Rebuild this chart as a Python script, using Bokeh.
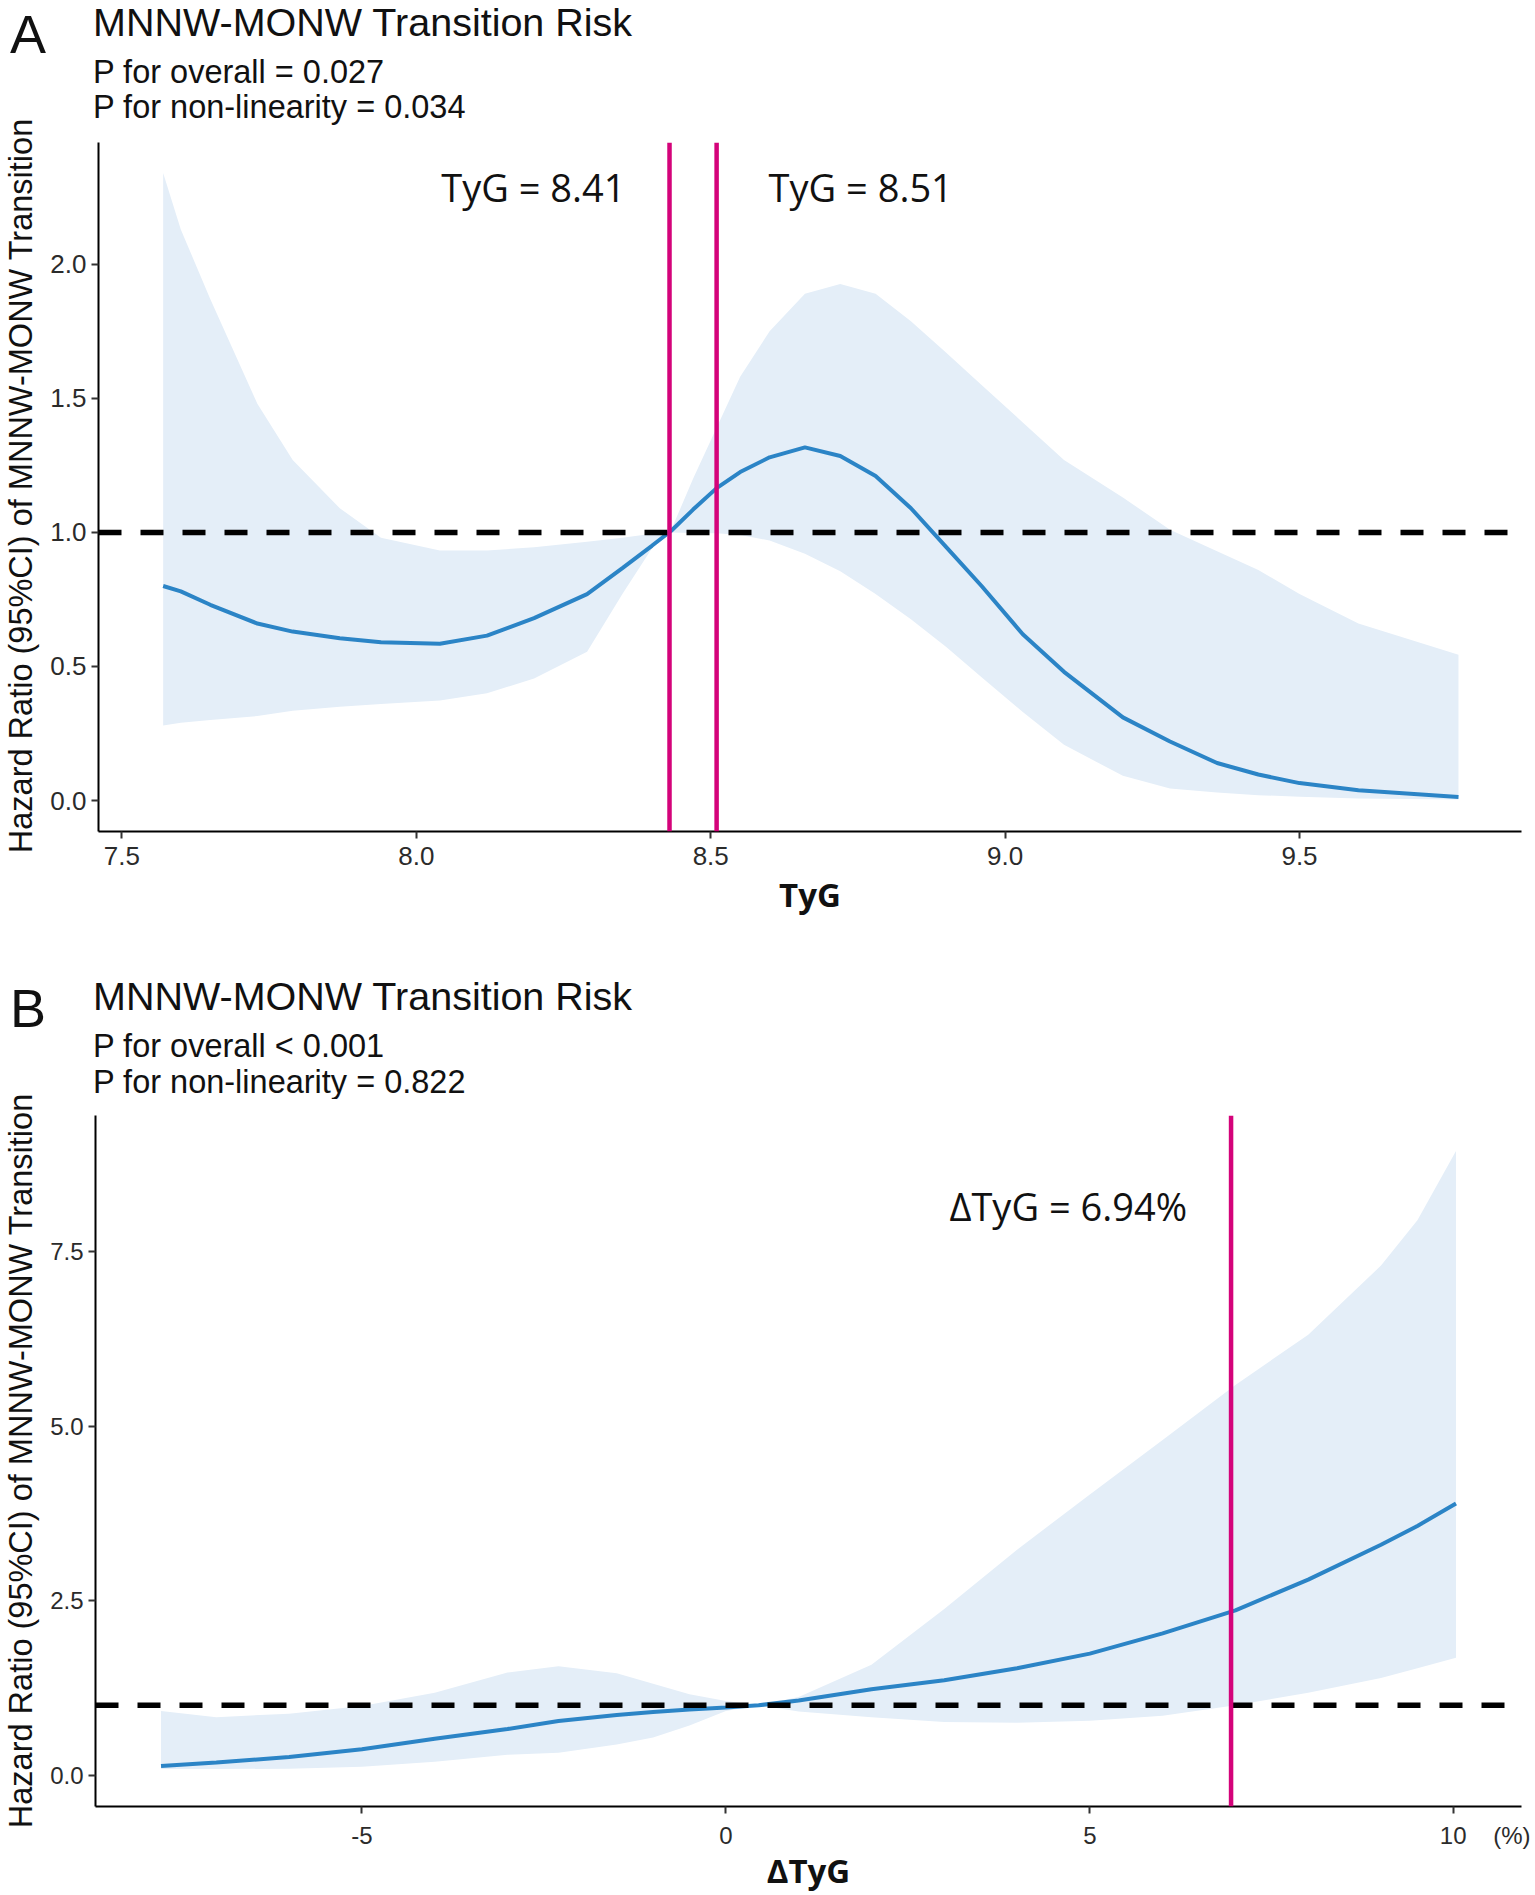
from html import escape

from bokeh.embed import file_html
from bokeh.layouts import column, row
from bokeh.models import Div, FixedTicker, Label, PrintfTickFormatter, Range1d, Span
from bokeh.plotting import figure
from bokeh.resources import INLINE

# ---- shared text ----
title = "MNNW-MONW Transition Risk"
y_title = "Hazard Ratio (95%CI) of MNNW-MONW Transition"
ref_hr = 1.0

# ---- panel A: TyG ----
tyg_x = [7.57, 7.60, 7.65, 7.73, 7.79, 7.87, 7.94, 8.04, 8.12, 8.20, 8.29, 8.35, 8.40, 8.433,
         8.47, 8.51, 8.55, 8.60, 8.66, 8.72, 8.78, 8.84, 8.90, 8.96, 9.03, 9.10, 9.20, 9.28,
         9.36, 9.43, 9.50, 9.60, 9.77]
tyg_hr = [0.80, 0.78, 0.73, 0.66, 0.63, 0.605, 0.59, 0.585, 0.615, 0.68, 0.77, 0.867, 0.95, 1.006,
          1.085, 1.165, 1.225, 1.28, 1.317, 1.285, 1.21, 1.09, 0.945, 0.80, 0.62, 0.48, 0.31, 0.22,
          0.14, 0.097, 0.065, 0.038, 0.013]
tyg_lower = [0.28, 0.29, 0.30, 0.315, 0.335, 0.35, 0.36, 0.373, 0.40, 0.455, 0.555, 0.77, 0.94, 1.0,
             0.998, 0.997, 0.99, 0.97, 0.92, 0.855, 0.77, 0.676, 0.573, 0.46, 0.33, 0.208, 0.092,
             0.045, 0.03, 0.02, 0.014, 0.008, 0.004]
tyg_upper = [2.34, 2.13, 1.87, 1.48, 1.27, 1.09, 0.98, 0.932, 0.932, 0.945, 0.965, 0.98, 0.995, 1.01,
             1.20, 1.39, 1.58, 1.75, 1.89, 1.926, 1.89, 1.787, 1.67, 1.55, 1.41, 1.27, 1.13, 1.01,
             0.93, 0.86, 0.77, 0.66, 0.544]
tyg_cutoffs = [8.43, 8.51]
tyg_cutoff_labels = ["TyG = 8.41", "TyG = 8.51"]
tyg_pvals = ["P for overall = 0.027", "P for non-linearity = 0.034"]
tyg_xticks = [7.5, 8.0, 8.5, 9.0, 9.5]
tyg_yticks = [0.0, 0.5, 1.0, 1.5, 2.0]

# ---- panel B: delta TyG (%) ----
dtyg_x = [-7.76, -7, -6, -5, -4, -3, -2.3, -1.5, -1, -0.5, 0, 0.45, 1, 2, 3, 4, 5, 6, 7, 8, 9,
          9.5, 10.03]
dtyg_hr = [0.13, 0.18, 0.26, 0.37, 0.52, 0.66, 0.775, 0.86, 0.905, 0.94, 0.97, 1.0, 1.07, 1.23,
           1.36, 1.53, 1.74, 2.03, 2.36, 2.80, 3.30, 3.57, 3.89]
dtyg_lower = [0.086, 0.088, 0.09, 0.12, 0.19, 0.29, 0.32, 0.44, 0.54, 0.71, 0.92, 1.0, 0.91, 0.83,
              0.76, 0.75, 0.78, 0.85, 1.0, 1.18, 1.39, 1.53, 1.68]
dtyg_upper = [0.92, 0.83, 0.88, 0.99, 1.18, 1.47, 1.56, 1.46, 1.31, 1.16, 1.06, 1.0, 1.12, 1.58,
              2.38, 3.23, 4.02, 4.80, 5.59, 6.31, 7.30, 7.95, 8.94]
dtyg_cutoffs = [6.94]
dtyg_cutoff_labels = ["\u0394TyG = 6.94%"]
dtyg_pvals = ["P for overall < 0.001", "P for non-linearity = 0.822"]
dtyg_xticks = [-5, 0, 5, 10]
dtyg_yticks = [0.0, 2.5, 5.0, 7.5]
dtyg_unit = "(%)"

BAND = "#E4EEF8"
LINE = "#2B84C6"
MAGENTA = "#D4037A"
TEXT = "#111111"
TICK_TEXT = "#2b2b2b"
LEFT_W = 47          # strip holding the panel letter and the y title
PLOT_W = 1483
HEAD_H = 126
NBSP = "\u00a0"


def svg_text(x, y, txt, size, extra=""):
    return (f'<text x="{x}" y="{y}" font-family="Liberation Sans" font-size="{size}px" '
            f'fill="{TEXT}" {extra}>{escape(txt)}</text>')


def left_strip(letter, height, letter_y, ytitle_cy):
    body = svg_text(10, letter_y, letter, 54)
    body += svg_text(21, ytitle_cy, y_title, 32.5,
                     f'text-anchor="middle" dominant-baseline="central" '
                     f'transform="rotate(-90 21 {ytitle_cy})"')
    return Div(text=f'<svg xmlns="http://www.w3.org/2000/svg" width="{LEFT_W}" height="{height}" '
                    f'style="display:block">{body}</svg>', width=LEFT_W, height=height,
               margin=0)


def header(pvals, baselines):
    b_title, b_p1, b_p2 = baselines
    body = svg_text(46, b_title, title, 39.5)
    body += svg_text(46, b_p1, pvals[0], 32.5)
    body += svg_text(46, b_p2, pvals[1], 32.5)
    return Div(text=f'<svg xmlns="http://www.w3.org/2000/svg" width="{PLOT_W}" height="{HEAD_H}" '
                    f'style="display:block">{body}</svg>', width=PLOT_W, height=HEAD_H,
               margin=0)


def panel(x, hr, lower, upper, cutoffs, cutoff_labels, label_sides, label_y, x_title,
          x_range, y_range, xticks, yticks, xfmt, height, top, bottom, tick_size,
          xlabel_standoff, unit=None):
    p = figure(width=PLOT_W, height=height, x_range=Range1d(*x_range), y_range=Range1d(*y_range),
               output_backend="svg", toolbar_location=None, margin=0,
               min_border_left=95 - LEFT_W, min_border_right=9, min_border_top=top,
               min_border_bottom=bottom)
    p.outline_line_color = None
    p.grid.visible = False

    p.varea(x=x, y1=lower, y2=upper, fill_color=BAND, fill_alpha=1)
    p.line(x, hr, line_color=LINE, line_width=4)

    p.add_layout(Span(location=ref_hr, dimension="width", line_color="black",
                      line_width=5.5, line_dash="23 19"))
    for c in cutoffs:
        p.add_layout(Span(location=c, dimension="height", line_color=MAGENTA, line_width=4.5))
    for c, txt, side in zip(cutoffs, cutoff_labels, label_sides):
        p.add_layout(Label(x=c, y=label_y, text=txt, text_font="Open Sans",
                           text_font_size="38px", text_color=TEXT,
                           text_align=side, text_baseline="alphabetic",
                           x_offset=-44 if side == "right" else 52))

    p.xaxis.ticker = FixedTicker(ticks=xticks)
    p.yaxis.ticker = FixedTicker(ticks=yticks)
    p.xaxis.formatter = PrintfTickFormatter(format=xfmt)
    p.yaxis.formatter = PrintfTickFormatter(format="%.1f")
    if unit:
        # unit sits to the right of the last tick label, which stays centred on its tick
        p.xaxis.major_label_overrides = {
            xticks[-1]: NBSP * 10 + str(xticks[-1]) + NBSP * 4 + unit}
    for ax in (p.xaxis[0], p.yaxis[0]):
        ax.axis_line_color = "black"
        ax.axis_line_width = 2
        ax.major_tick_line_color = "#333333"
        ax.major_tick_line_width = 2
        ax.major_tick_out = 7
        ax.major_tick_in = 0
        ax.minor_tick_line_color = None
        ax.major_label_text_font = "Liberation Sans"
        ax.major_label_text_font_size = tick_size
        ax.major_label_text_color = TICK_TEXT
    p.xaxis.major_label_standoff = 8
    p.yaxis.major_label_standoff = 5

    p.xaxis.axis_label = x_title
    p.xaxis.axis_label_text_font = "Open Sans"
    p.xaxis.axis_label_text_font_size = "33px"
    p.xaxis.axis_label_text_font_style = "bold"
    p.xaxis.axis_label_text_color = TEXT
    p.xaxis.axis_label_standoff = xlabel_standoff
    return p


pa = panel(tyg_x, tyg_hr, tyg_lower, tyg_upper, tyg_cutoffs, tyg_cutoff_labels,
           ["right", "left"], 2.287, "TyG", (7.4602, 9.877), (-0.1155, 2.454),
           tyg_xticks, tyg_yticks, "%.1f", height=847, top=16, bottom=142, tick_size="26px",
           xlabel_standoff=4)
block_a = row(left_strip("A", HEAD_H + 847, 53, 486),
              column(header(tyg_pvals, (36, 83, 118)), pa, spacing=0, margin=0),
              spacing=0, margin=0)

pb = panel(dtyg_x, dtyg_hr, dtyg_lower, dtyg_upper, dtyg_cutoffs, dtyg_cutoff_labels,
           ["right"], 8.15, "\u0394TyG", (-8.66, 10.93), (-0.45, 9.45),
           dtyg_xticks, dtyg_yticks, "%d", height=796, top=16, bottom=87, tick_size="24px",
           xlabel_standoff=-4, unit=dtyg_unit)
block_b = row(left_strip("B", HEAD_H + 796, 54, 488),
              column(header(dtyg_pvals, (37, 84, 120)), pb, spacing=0, margin=0),
              spacing=0, margin=0)

layout = column(block_a, block_b, spacing=0, margin=0)
open("out.html", "w").write(file_html(layout, INLINE))
